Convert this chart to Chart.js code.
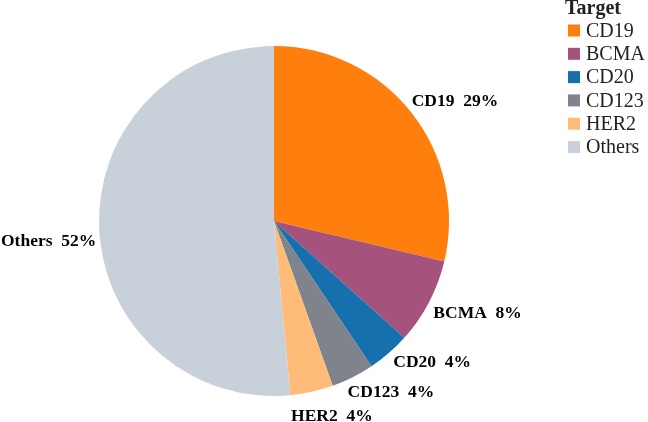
<!DOCTYPE html>
<html>
<head>
<meta charset="utf-8">
<script src="https://cdn.jsdelivr.net/npm/chart.js@4.4.1/dist/chart.umd.min.js"></script>
<style>
  html, body { margin: 0; padding: 0; background: #fff; }
  #wrap { width: 648px; height: 422px; }
</style>
</head>
<body>
<div id="wrap"><canvas id="pieChart" width="648" height="422"></canvas></div>
<script>
const targets = ['CD19', 'BCMA', 'CD20', 'CD123', 'HER2', 'Others'];
const shares = [29, 8, 4, 4, 4, 52];
const colors = ['#ff7f0e', '#a5527d', '#1770ae', '#7e838c', '#ffbc79', '#c8d0da'];
const legendTitle = 'Target';

// small nudges for the outside labels (px), like the hand-placed ones in the original
const labelNudge = [[5, -2], [4, 5], [14, -1], [16, 3], [10, 11], [3, 12]];

const serif = '"Liberation Serif", "Times New Roman", serif';

const outsideLabels = {
    id: 'outsideLabels',
    afterDatasetsDraw(chart) {
        const ctx = chart.ctx;
        const arcs = chart.getDatasetMeta(0).data;
        ctx.save();
        ctx.font = 'bold 17.5px ' + serif;
        ctx.fillStyle = '#000';
        ctx.textBaseline = 'middle';
        ctx.textAlign = 'center';
        arcs.forEach((arc, i) => {
            const a = (arc.startAngle + arc.endAngle) / 2;
            const r = arc.outerRadius + 6;
            const text = targets[i] + '  ' + shares[i] + '%';
            const w = ctx.measureText(text).width;
            const h = 16;
            const x = arc.x + Math.cos(a) * r + Math.cos(a) * w / 2 + labelNudge[i][0];
            const y = arc.y + Math.sin(a) * r + Math.sin(a) * h / 2 + labelNudge[i][1];
            ctx.fillText(text, x, y);
        });
        ctx.restore();
    }
};

const sideLegend = {
    id: 'sideLegend',
    afterDraw(chart) {
        const ctx = chart.ctx;
        ctx.save();
        ctx.fillStyle = '#222';
        ctx.textBaseline = 'alphabetic';
        ctx.textAlign = 'left';
        ctx.font = 'bold 20px ' + serif;
        ctx.fillText(legendTitle, 565, 14);
        ctx.font = '20px ' + serif;
        targets.forEach((t, i) => {
            const cy = 30.5 + i * 23.3;
            ctx.fillStyle = colors[i];
            ctx.fillRect(568, cy - 6, 12, 12);
            ctx.fillStyle = '#222';
            ctx.textBaseline = 'middle';
            ctx.fillText(t, 586, cy + 1);
        });
        ctx.restore();
    }
};

new Chart(document.getElementById('pieChart'), {
    type: 'pie',
    data: {
        labels: targets,
        datasets: [{
            data: shares,
            backgroundColor: colors,
            borderWidth: 0
        }]
    },
    options: {
        responsive: false,
        animation: false,
        layout: { padding: { left: 99, right: 199, top: 46, bottom: 26 } },
        plugins: {
            legend: { display: false },
            tooltip: { enabled: false }
        }
    },
    plugins: [outsideLabels, sideLegend]
});
</script>
</body>
</html>
